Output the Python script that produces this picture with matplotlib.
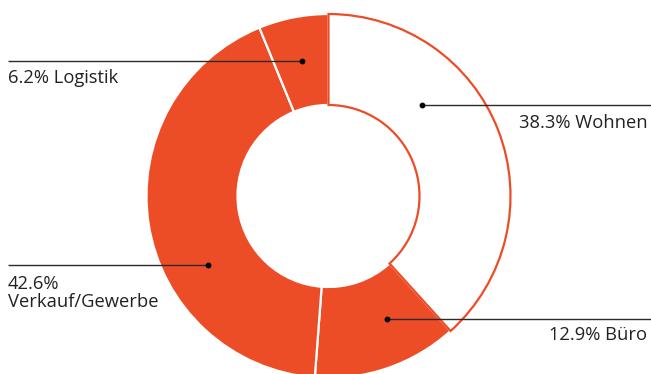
import matplotlib
matplotlib.use("Agg")
import matplotlib.pyplot as plt

categories = ["Wohnen", "Büro", "Verkauf/Gewerbe", "Logistik"]
shares = [38.3, 12.9, 42.6, 6.2]
labels = ["38.3% Wohnen", "12.9% Büro", "42.6%\nVerkauf/Gewerbe", "6.2% Logistik"]

ORANGE = "#EC4D27"
W, H = 651, 374

fig = plt.figure(figsize=(W / 100, H / 100), dpi=100)
ax = fig.add_axes([0, 0, 1, 1])

cx, cy = 328.5, H - 196
r_out, r_in = 182, 91

wedges, _ = ax.pie(shares, startangle=90, counterclock=False, center=(cx, cy),
                   radius=r_out, frame=True,
                   wedgeprops=dict(width=r_out - r_in, linewidth=1.6))
for i, w in enumerate(wedges):
    if categories[i] == "Wohnen":
        w.set_facecolor("white")
        w.set_edgecolor(ORANGE)
        w.set_zorder(3)
    else:
        w.set_facecolor(ORANGE)
        w.set_edgecolor("white")
        w.set_zorder(2)
ax.set_xlim(0, W)
ax.set_ylim(0, H)
ax.set_aspect("equal")
ax.axis("off")

# leader lines: (dot x, line y, line end x, text x, first baseline y, ha) in px from top-left
leaders = {
    "Wohnen": (422, 105, W, 648, 128, "right"),
    "Büro": (387, 319, W, 647, 340, "right"),
    "Verkauf/Gewerbe": (208, 265, 8, 8, 289, "left"),
    "Logistik": (302, 61, 8, 8, 83, "left"),
}
line_step = 18
for cat, lab in zip(categories, labels):
    dx, ly, ex, tx, by, ha = leaders[cat]
    ax.plot([dx, ex], [H - ly, H - ly], color="#2b2b2b", lw=1.0, zorder=5,
            solid_capstyle="butt")
    ax.plot([dx], [H - ly], "o", color="black", ms=3.2, zorder=6)
    for k, part in enumerate(lab.split("\n")):
        ax.text(tx, H - (by + k * line_step), part, ha=ha, va="baseline",
                fontsize=13.2, family="Open Sans", color="#222222", zorder=6)

fig.savefig("out.png", dpi=100)
